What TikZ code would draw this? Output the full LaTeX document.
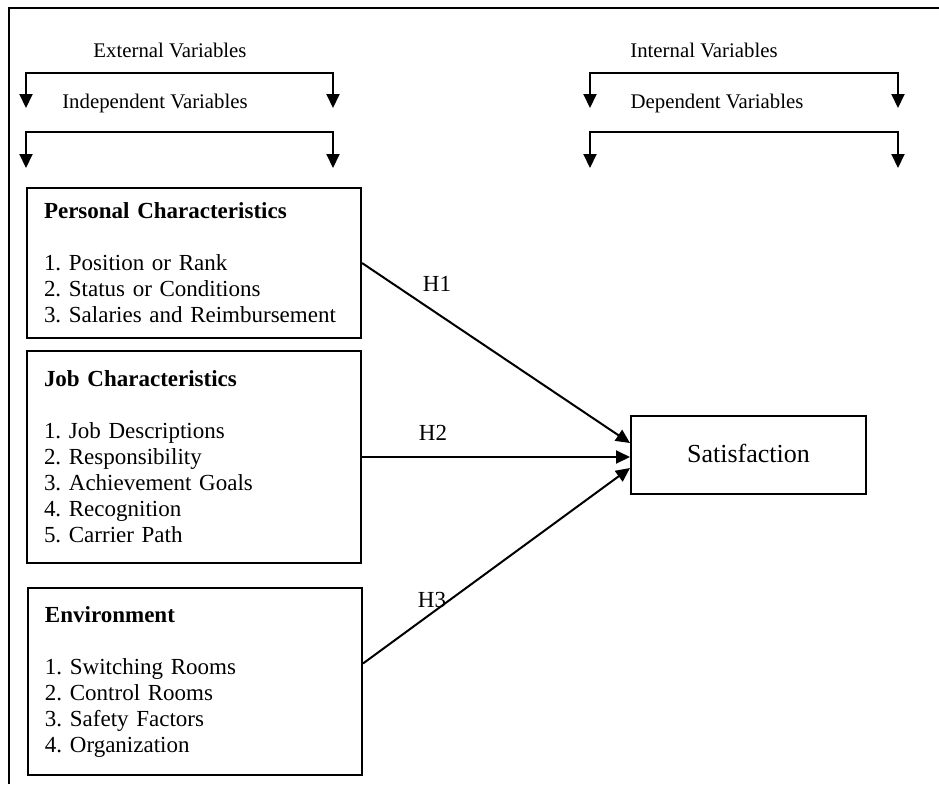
\documentclass[tikz,border=0pt]{standalone}
\usepackage{fontspec}
\setmainfont{Liberation Serif}
\usetikzlibrary{arrows.meta}

\begin{document}
\frenchspacing
\begin{tikzpicture}[x=0.5pt,y=-0.5pt]
            \tikzset{factor/.style = {shape=rectangle, draw, line width=1pt, anchor=north west, align=left, text width=150pt, inner xsep=8.5pt, font=\fontsize{11.5}{13}\selectfont}}
            \tikzset{outcome/.style = {shape=rectangle, draw, line width=1pt, minimum width=117.5pt, minimum height=39pt, font=\fontsize{13}{15}\selectfont}}
            \tikzset{caption/.style = {font=\fontsize{10.4}{12}\selectfont}}
            \tikzset{link/.style = {draw, line width=1pt, -{Triangle[length=7pt,width=6.5pt]}}}
            \tikzset{bracket/.style = {draw, line width=1pt, {Triangle[length=7pt,width=6.5pt]}-{Triangle[length=7pt,width=6.5pt]}}}
            \useasboundingbox (0,0) rectangle (939,784);
            % frame
            \draw[line width=1pt] (9,784) -- (9,8) -- (939,8);
            % brackets
            \coordinate (el) at (26,108);  \coordinate (er) at (333,108);
            \coordinate (il) at (26,168);  \coordinate (ir) at (333,168);
            \coordinate (nl) at (590,108); \coordinate (nr) at (898,108);
            \coordinate (dl) at (590,168); \coordinate (dr) at (898,168);
            \draw[bracket] (el) |- (180,73) -| (er);
            \draw[bracket] (il) |- (180,132) -| (ir);
            \draw[bracket] (nl) |- (744,73) -| (nr);
            \draw[bracket] (dl) |- (744,132) -| (dr);
            \node[caption] (ext) at (170,50) {External Variables};
            \node[caption] (ind) at (155,103) {Independent Variables};
            \node[caption] (int) at (704,50) {Internal Variables};
            \node[caption] (dep) at (717,103) {Dependent Variables};
            % factors
            \node[factor, minimum height=75pt] (pers) at (26,187) {\textbf{Personal Characteristics}\\[13pt]
              1. Position or Rank\\ 2. Status or Conditions\\ 3. Salaries and Reimbursement};
            \node[factor, minimum height=106pt] (job) at (26,350) {\textbf{Job Characteristics}\\[13pt]
              1. Job Descriptions\\ 2. Responsibility\\ 3. Achievement Goals\\ 4. Recognition\\ 5. Carrier Path};
            \node[factor, minimum height=93.5pt] (env) at (27,587) {\textbf{Environment}\\[13pt]
              1. Switching Rooms\\ 2. Control Rooms\\ 3. Safety Factors\\ 4. Organization};
            \node[outcome] (sat) at (748.5,455) {\raisebox{2pt}{Satisfaction}};
            % edges
            \draw[link] (pers.east) -- ([yshift=6pt]sat.west);
            \draw[link] (job.east) -- (job.east -| sat.west);
            \draw[link] ([yshift=9pt]env.east) -- ([yshift=-6.5pt]sat.west);
            \node[font=\fontsize{11.5}{13}\selectfont] (h1) at (437,284) {H1};
            \node[font=\fontsize{11.5}{13}\selectfont] (h2) at (433,433) {H2};
            \node[font=\fontsize{11.5}{13}\selectfont] (h3) at (432,600) {H3};
\end{tikzpicture}
\end{document}
